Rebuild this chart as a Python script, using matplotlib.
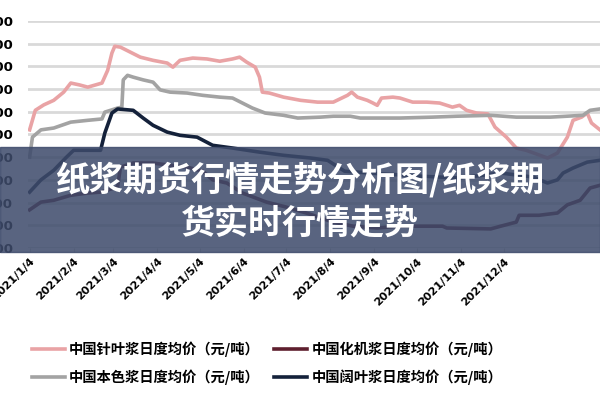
import pandas as pd
import matplotlib.pyplot as plt
from matplotlib.patches import Rectangle

plt.rcParams['font.family'] = ['Noto Sans CJK SC', 'DejaVu Sans']

# 中国针叶浆日度均价（元/吨）
zhenye_dates = ['2021-01-04', '2021-01-08', '2021-01-14', '2021-01-21', '2021-01-28', '2021-02-02',
                '2021-02-08', '2021-02-14', '2021-02-24', '2021-02-28', '2021-03-03', '2021-03-05',
                '2021-03-09', '2021-03-16', '2021-03-23', '2021-04-01', '2021-04-11', '2021-04-15',
                '2021-04-20', '2021-04-29', '2021-05-09', '2021-05-18', '2021-05-27', '2021-06-01',
                '2021-06-06', '2021-06-12', '2021-06-15', '2021-06-17', '2021-06-22', '2021-07-02',
                '2021-07-14', '2021-07-26', '2021-08-06', '2021-08-16', '2021-08-19', '2021-08-23',
                '2021-08-30', '2021-09-03', '2021-09-06', '2021-09-09', '2021-09-17', '2021-09-22',
                '2021-10-01', '2021-10-11', '2021-10-20', '2021-10-29', '2021-11-03', '2021-11-08',
                '2021-11-15', '2021-11-23', '2021-11-28', '2021-12-06', '2021-12-13', '2021-12-20',
                '2022-01-04', '2022-01-11', '2022-01-18', '2022-01-22', '2022-01-28', '2022-02-01',
                '2022-02-04', '2022-02-10']
zhenye = [5600, 6030, 6150, 6250, 6430, 6630, 6590, 6540, 6630, 6910, 7290, 7440,
          7420, 7310, 7200, 7130, 7070, 6980, 7130, 7180, 7160, 7110, 7160, 7200,
          7090, 6980, 6760, 6430, 6410, 6320, 6250, 6210, 6210, 6360, 6430, 6320,
          6250, 6190, 6140, 6300, 6320, 6300, 6210, 6210, 6190, 6100, 6140, 6030,
          5970, 5950, 5660, 5440, 5200, 5150, 4980, 5090, 5440, 5810, 5880, 5970,
          5750, 5600]

# 中国本色浆日度均价（元/吨）
bense_dates = ['2021-01-04', '2021-01-06', '2021-01-12', '2021-01-21', '2021-02-02', '2021-02-14',
               '2021-02-24', '2021-02-26', '2021-03-07', '2021-03-10', '2021-03-11', '2021-03-14',
               '2021-03-18', '2021-03-25', '2021-04-01', '2021-04-06', '2021-04-13', '2021-04-25',
               '2021-05-06', '2021-05-18', '2021-05-27', '2021-06-03', '2021-06-10', '2021-06-19',
               '2021-07-02', '2021-07-12', '2021-07-28', '2021-08-06', '2021-08-18', '2021-08-25',
               '2021-09-22', '2021-10-15', '2021-11-01', '2021-11-25', '2021-12-13', '2022-01-06',
               '2022-01-29', '2022-02-03', '2022-02-10']
bense = [5000, 5440, 5600, 5640, 5770, 5810, 5840, 5990, 6080, 6100, 6700, 6800,
         6760, 6700, 6650, 6480, 6430, 6410, 6360, 6320, 6300, 6190, 6080, 5970,
         5920, 5860, 5880, 5900, 5900, 5860, 5860, 5880, 5900, 5920, 5880, 5880,
         5920, 6030, 6060]

# 中国化机浆日度均价（元/吨）
huaji_dates = ['2021-01-04', '2021-01-12', '2021-01-21', '2021-02-02', '2021-02-14', '2021-02-23',
               '2021-03-07', '2021-03-09', '2021-03-18', '2021-04-01', '2021-04-13', '2021-04-25',
               '2021-05-06', '2021-05-13', '2021-05-23', '2021-06-03', '2021-06-20', '2021-07-04',
               '2021-07-18', '2021-08-06', '2021-08-20', '2021-09-06', '2021-09-22', '2021-10-22',
               '2021-10-25', '2021-11-25', '2021-12-02', '2021-12-13', '2021-12-15', '2021-12-29',
               '2022-01-11', '2022-01-18', '2022-01-27', '2022-02-03', '2022-02-10']
huaji = [3840, 4010, 4050, 4160, 4210, 4230, 4340, 4780, 4870, 4870, 4820, 4780,
         4690, 4500, 4430, 4210, 4010, 3900, 3770, 3570, 3480, 3440, 3480, 3480,
         3440, 3420, 3480, 3570, 3720, 3720, 3770, 3950, 4050, 4320, 4380]

# 中国阔叶浆日度均价（元/吨）
kuoye_dates = ['2021-01-04', '2021-01-12', '2021-01-21', '2021-01-30', '2021-02-04', '2021-02-23',
               '2021-02-26', '2021-03-03', '2021-03-07', '2021-03-18', '2021-03-25', '2021-04-01',
               '2021-04-11', '2021-04-20', '2021-05-02', '2021-05-13', '2021-05-27', '2021-06-15',
               '2021-07-02', '2021-07-21', '2021-08-02', '2021-08-14', '2021-09-10', '2021-10-07',
               '2021-11-03', '2021-12-02', '2021-12-25', '2022-01-04', '2022-01-11', '2022-01-15',
               '2022-01-22', '2022-02-01', '2022-02-10']
kuoye = [4230, 4500, 4710, 5000, 5150, 5150, 5530, 5970, 6060, 6030, 5860, 5700,
         5550, 5480, 5440, 5260, 5200, 5110, 5040, 4980, 4930, 4690, 4630, 4580,
         4540, 4650, 4560, 4430, 4500, 4650, 4760, 4890, 4930]

tick_dates = ['2021-01-04', '2021-02-04', '2021-03-04', '2021-04-04', '2021-05-04', '2021-06-04',
              '2021-07-04', '2021-08-04', '2021-09-04', '2021-10-04', '2021-11-04', '2021-12-04']
tick_labels = ['2021/1/4', '2021/2/4', '2021/3/4', '2021/4/4', '2021/5/4', '2021/6/4',
               '2021/7/4', '2021/8/4', '2021/9/4', '2021/10/4', '2021/11/4', '2021/12/4']
title = '纸浆期货行情走势分析图/纸浆期\n货实时行情走势'

fig = plt.figure(figsize=(6, 4), dpi=100)
ax = fig.add_axes([0.047, 0.38, 0.953, 0.568])

ax.plot(pd.to_datetime(zhenye_dates), zhenye, color='#e9a3a5', lw=2.6, label='中国针叶浆日度均价（元/吨）')
ax.plot(pd.to_datetime(bense_dates), bense, color='#a3a3a3', lw=2.6, label='中国本色浆日度均价（元/吨）')
ax.plot(pd.to_datetime(huaji_dates), huaji, color='#5e1f2e', lw=2.6, label='中国化机浆日度均价（元/吨）')
ax.plot(pd.to_datetime(kuoye_dates), kuoye, color='#14213a', lw=2.6, label='中国阔叶浆日度均价（元/吨）')

ax.set_ylim(3000, 8000)
ax.set_yticks(range(3000, 8001, 500))
ax.set_xlim(pd.Timestamp('2021-01-03'), pd.Timestamp('2022-02-10'))
ax.set_xticks(pd.to_datetime(tick_dates))
ax.set_xticklabels(tick_labels, rotation=45, ha='right', rotation_mode='anchor',
                   fontsize=8, fontweight='bold', family='DejaVu Sans')
ax.tick_params(axis='x', length=3, color='#d0d0d0', pad=3)
ax.tick_params(axis='y', length=0, pad=11, labelsize=9.5)
for lab in ax.get_yticklabels():
    lab.set_fontweight('bold')
    lab.set_family('DejaVu Sans')
ax.grid(axis='y', color='#d9d9d9', lw=2)
ax.set_axisbelow(True)
for s in ax.spines.values():
    s.set_visible(False)

fig.legend(loc='center', bbox_to_anchor=(0.445, 0.092), ncol=2, frameon=False,
           prop={'size': 10.3, 'weight': 'bold'}, handlelength=2.3, handletextpad=0.3,
           columnspacing=1.0, labelspacing=0.85)

# 半透明标题横幅
fig.patches.append(Rectangle((0, 0.37), 1, 0.262, transform=fig.transFigure,
                             color='#3e4b6b', alpha=0.86, zorder=10))
fig.text(0.5, 0.497, title, ha='center', va='center', color='white', fontsize=24.5,
         fontweight='bold', linespacing=1.3, zorder=11)

fig.savefig('out.png', dpi=100)
